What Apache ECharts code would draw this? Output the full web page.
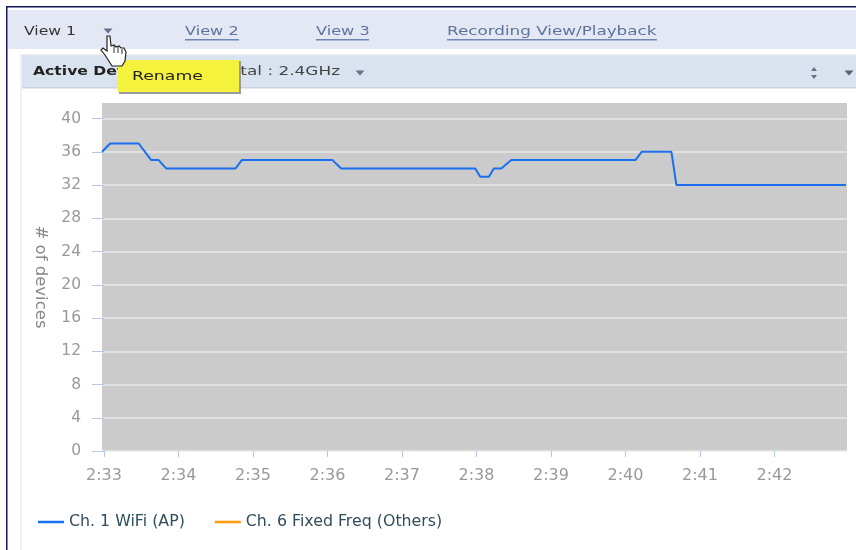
<!DOCTYPE html>
<html>
<head>
<meta charset="utf-8">
<style>html,body{margin:0;padding:0;background:#fff}#c{width:856px;height:550px}</style>
<script src="https://cdn.jsdelivr.net/npm/echarts@6/dist/echarts.min.js"></script>
</head>
<body>
<div id="c"></div>
<script>
// seconds after 2:33
const wifiSeconds = [-1.6, 5, 28, 38, 44, 50, 106, 111, 184, 191, 299, 303, 310, 314, 320, 328, 428, 433, 457, 461, 597.6];
const wifiDevices = [36, 37, 37, 35, 35, 34, 34, 35, 35, 34, 34, 33, 33, 34, 34, 35, 35, 36, 36, 32, 32];
const fixedFreqDevices = [];
const yTicks = [0, 4, 8, 12, 16, 20, 24, 28, 32, 36, 40];
const xTickSeconds = [0, 60, 120, 180, 240, 300, 360, 420, 480, 540];
const xTickLabels = ['2:33', '2:34', '2:35', '2:36', '2:37', '2:38', '2:39', '2:40', '2:41', '2:42'];
const seriesNames = ['Ch. 1 WiFi (AP)', 'Ch. 6 Fixed Freq (Others)'];
const tabs = [['View 2', 185, 54, 1.24], ['View 3', 316, 53, 1.24], ['Recording View/Playback', 447, 210, 1.29]];

const font = '"DejaVu Sans", Verdana, sans-serif';
const chart = echarts.init(document.getElementById('c'), null, {renderer: 'canvas'});
const text = (x, y, t, fill, size, weight, sx, align) => ({type: 'text', x, y, z: 20, scaleX: sx || 1,
  style: {text: t, fill, font: `${weight || 'normal'} ${size}px ${font}`, textVerticalAlign: 'middle', textAlign: align || 'left'}});
const rect = (x, y, w, h, fill, extra) => Object.assign({type: 'rect', z: -5, silent: true,
  shape: {x, y, width: w, height: h}, style: {fill}}, extra || {});
const poly = (points, fill, z) => ({type: 'polygon', z: z || 20, shape: {points}, style: {fill}});
const tri = (cx, cy, w, h, fill) => poly([[cx - w / 2, cy - h / 2], [cx + w / 2, cy - h / 2], [cx, cy + h / 2]], fill);
const stroke = (points) => ({type: 'polyline', z: 33, shape: {points}, style: {stroke: '#333333', lineWidth: 1, fill: null}});

const graphics = [
  rect(6, 6, 850, 1.5, '#14145a'),
  rect(6, 6, 1.5, 544, '#14145a'),
  rect(8, 10, 848, 39, '#e4e8f4'),
  rect(20, 54, 836, 496, '#f0f0f0'),
  rect(22, 55, 834, 495, '#ffffff'),
  rect(22, 55, 834, 33, '#d8e3ef'),
  rect(22, 87, 834, 1.5, '#cdd3da'),
  text(24, 32, 'View 1', '#333333', 13, 'normal', 1.2),
  tri(108, 31, 9, 5, '#66708a'),
  text(33, 72, 'Active Devices', '#222222', 13, 'bold', 1.2),
  text(340, 72, 'tal : 2.4GHz', '#444444', 13, 'normal', 1.3, 'right'),
  tri(360, 73, 9, 5, '#66708a'),
  poly([[811, 71], [817, 71], [814, 67]], '#66708a'),
  poly([[811, 75], [817, 75], [814, 79]], '#66708a'),
  tri(849, 73, 9, 5, '#556070'),
  rect(119, 61, 122, 33, '#9a9a9a', {z: 29}),
  rect(118, 60, 121, 32, '#f4f23c', {z: 30}),
  Object.assign(text(132, 76.5, 'Rename', '#222222', 13, 'normal', 1.33), {z: 31}),
  {type: 'polygon', z: 32, shape: {points: [[107, 36], [110, 36], [111, 46], [114, 45], [116, 47], [119, 46], [121, 48], [124, 48], [126, 52], [125, 61], [122, 66], [112, 66], [105, 55], [101, 50], [103, 48], [107, 51]]},
    style: {fill: '#ffffff', stroke: '#222222', lineWidth: 1.2}},
  stroke([[114, 46], [114, 53]]),
  stroke([[118, 47], [118, 53]]),
  stroke([[122, 49], [122, 54]])
];
tabs.forEach(([t, x, w, sx]) => {
  graphics.push(text(x, 32, t, '#5d739c', 13, 'normal', sx));
  graphics.push(rect(x, 39, w, 1.5, '#6f86b0', {z: 20}));
});

chart.setOption({
  animation: false,
  backgroundColor: '#ffffff',
  textStyle: {fontFamily: font},
  graphic: graphics,
  grid: {left: 102, top: 103, width: 745, height: 348, show: true,
    backgroundColor: '#cbcbcb', borderWidth: 0},
  legend: {
    left: 33, top: 509, itemWidth: 26, itemHeight: 2.5, itemGap: 30, icon: 'rect',
    data: seriesNames,
    selectedMode: false,
    textStyle: {color: '#2f4d5c', fontSize: 15.8, fontFamily: font},
    inactiveColor: '#ff9a0f'
  },
  xAxis: {
    type: 'value', min: -1.6, max: 598.4,
    axisLine: {show: false},
    axisTick: {show: true, length: 6, customValues: xTickSeconds, lineStyle: {color: '#b3c9e6'}},
    axisLabel: {
      customValues: xTickSeconds, margin: 17, color: '#999999', fontSize: 16, fontFamily: font,
      formatter: v => xTickLabels[xTickSeconds.indexOf(v)]
    },
    splitLine: {show: false}
  },
  yAxis: {
    type: 'value', min: 0, max: 41.87, interval: 4,
    name: '# of devices', nameLocation: 'middle', nameRotate: -90, nameGap: 53,
    nameTextStyle: {color: '#888888', fontSize: 16.5, fontFamily: font},
    axisLine: {show: false},
    axisTick: {show: true, length: 12, customValues: yTicks, lineStyle: {color: '#b3c9e6'}},
    axisLabel: {customValues: yTicks, margin: 21, color: '#999999', fontSize: 15.5, fontFamily: font},
    splitLine: {show: true, lineStyle: {color: '#e8e8e8', width: 1.5}}
  },
  series: [
    {name: seriesNames[0], type: 'line', showSymbol: false, color: '#1a6ff0',
     lineStyle: {width: 2, color: '#1a6ff0'},
     data: wifiSeconds.map((s, i) => [s, wifiDevices[i]])},
    {name: seriesNames[1], type: 'line', showSymbol: false, color: '#ff9a0f',
     lineStyle: {width: 2, color: '#ff9a0f'},
     data: fixedFreqDevices}
  ]
});
</script>
</body>
</html>
